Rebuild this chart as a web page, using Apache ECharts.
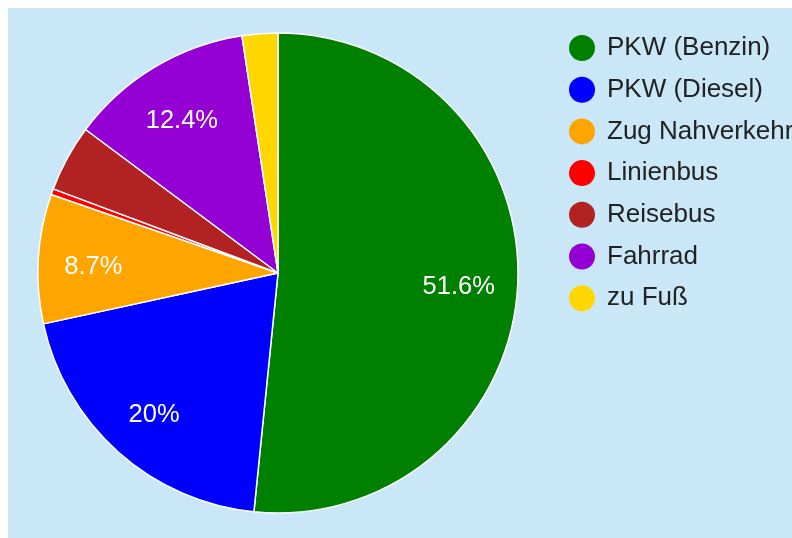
<!DOCTYPE html>
<html>
<head>
<meta charset="utf-8">
<script src="https://cdn.jsdelivr.net/npm/echarts@6/dist/echarts.min.js"></script>
<style>
html, body { margin: 0; padding: 0; overflow: hidden; background: #ffffff; }
#chart { position: absolute; left: 8px; top: 8px; width: 860px; height: 560px; }
</style>
</head>
<body>
<div id="chart"></div>
<script>
var categories = ['PKW (Benzin)', 'PKW (Diesel)', 'Zug Nahverkehr', 'Linienbus', 'Reisebus', 'Fahrrad', 'zu Fuß'];
var values = [51.6, 20.0, 8.7, 0.4, 4.5, 12.4, 2.4];
var colors = ['#008000', '#0000ff', '#ffa500', '#ff0000', '#b22222', '#9400d3', '#ffd700'];

var font = 'Arial, "Liberation Sans", sans-serif';
var pieData = categories.map(function (c, i) {
  return { name: c, value: values[i], itemStyle: { color: colors[i] } };
});
var labelData = categories.map(function (c, i) {
  return { name: c, value: values[i] };
});

var chart = echarts.init(document.getElementById('chart'));
chart.setOption({
  backgroundColor: '#c9e7f7',
  animation: false,
  legend: {
    orient: 'vertical',
    left: 556,
    top: 22,
    icon: 'circle',
    itemWidth: 26,
    itemHeight: 26,
    itemGap: 15.7,
    itemStyle: { borderWidth: 0 },
    data: categories.map(function (c, i) { return { name: c, itemStyle: { color: colors[i], borderWidth: 0 } }; }),
    textStyle: { fontSize: 26, color: '#222222', fontFamily: font, padding: [0, 0, 0, 7] }
  },
  series: [
    {
      type: 'pie',
      center: [270, 265],
      radius: [0, 240],
      startAngle: 90,
      clockwise: true,
      avoidLabelOverlap: false,
      itemStyle: { borderColor: '#ffffff', borderWidth: 1.5 },
      label: { show: false },
      labelLine: { show: false },
      emphasis: { disabled: true },
      data: pieData
    },
    {
      type: 'pie',
      center: [268, 270],
      radius: [120, 240],
      startAngle: 90,
      clockwise: true,
      silent: true,
      avoidLabelOverlap: false,
      percentPrecision: 1,
      itemStyle: { color: 'rgba(0,0,0,0)', borderWidth: 0 },
      label: {
        show: true,
        position: 'inside',
        color: '#ffffff',
        fontSize: 25.5,
        fontFamily: font,
        formatter: function (p) { return p.percent >= 5 ? p.percent + '%' : ''; }
      },
      labelLine: { show: false },
      emphasis: { disabled: true },
      data: labelData
    }
  ]
});
</script>
</body>
</html>
